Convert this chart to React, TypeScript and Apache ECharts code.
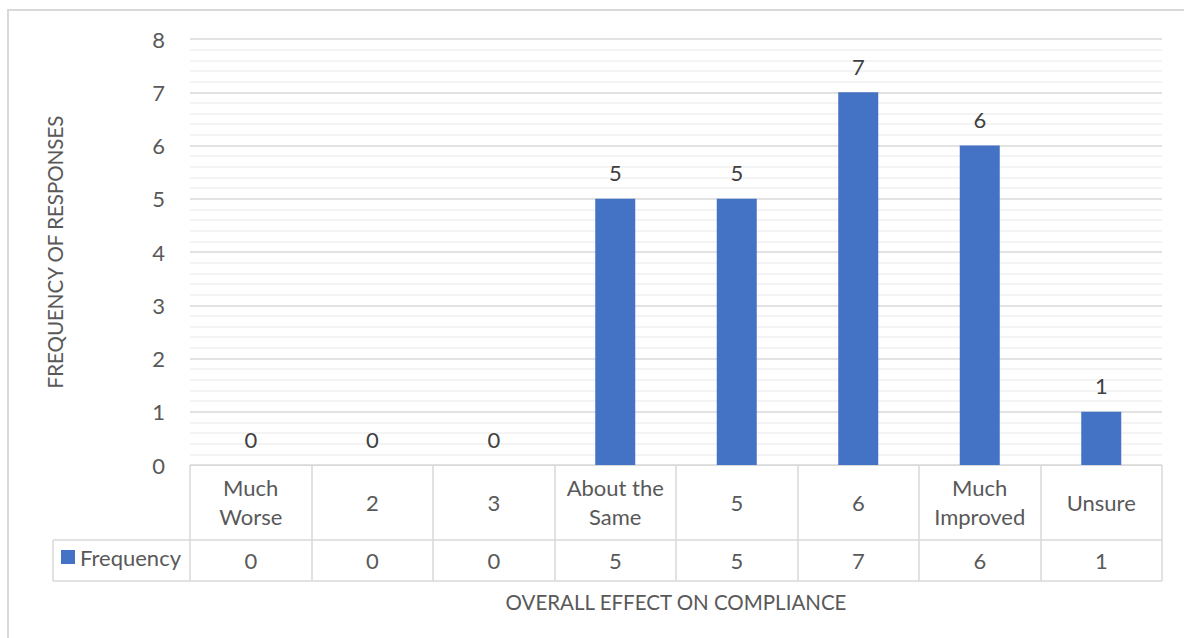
import React, { useEffect, useRef } from "react";
import * as echarts from "echarts";

const categories = ["Much\nWorse", "2", "3", "About the\nSame", "5", "6", "Much\nImproved", "Unsure"];
const frequency = [0, 0, 0, 5, 5, 7, 6, 1];
const seriesName = "Frequency";
const yTitle = "FREQUENCY OF RESPONSES";
const xTitle = "OVERALL EFFECT ON COMPLIANCE";

const FONT = "Lato, 'Open Sans', sans-serif";
const TEXT = "#595959";
const GRID = "#d9d9d9";

export default function App() {
  const ref = useRef<HTMLDivElement>(null);
  useEffect(() => {
    if (!ref.current) return;
    const chart = echarts.init(ref.current, undefined, { renderer: "svg" });
    chart.setOption({
      animation: false,
      textStyle: { fontFamily: FONT },
      grid: { left: 190, right: 22, top: 39, bottom: 173, containLabel: false },
      legend: {
        data: [seriesName],
        left: 61,
        top: 546,
        padding: 0,
        itemWidth: 14,
        itemHeight: 14,
        icon: "rect",
        textStyle: { fontSize: 22, color: TEXT, fontFamily: FONT },
      },
      xAxis: [
        {
          type: "category",
          data: categories,
          position: "bottom",
          axisLine: { show: true, lineStyle: { color: GRID, width: 1 } },
          axisTick: { show: true, alignWithLabel: false, length: 116, lineStyle: { color: GRID, width: 1.5 } },
          axisLabel: {
            fontSize: 22,
            color: TEXT,
            lineHeight: 29,
            margin: 37,
            verticalAlign: "middle",
            interval: 0,
            fontFamily: FONT,
          },
        },
        {
          type: "category",
          data: categories,
          position: "bottom",
          offset: 75,
          axisLine: { show: false },
          axisTick: { show: false },
          axisLabel: {
            fontSize: 22,
            color: TEXT,
            margin: 20,
            verticalAlign: "middle",
            interval: 0,
            fontFamily: FONT,
            formatter: (_v: string, i: number) => String(frequency[i]),
          },
          name: xTitle,
          nameLocation: "middle",
          nameGap: 62,
          nameTextStyle: { fontSize: 20.5, color: TEXT, fontFamily: FONT, verticalAlign: "middle" },
        },
      ],
      yAxis: {
        type: "value",
        min: 0,
        max: 8,
        interval: 1,
        axisLine: { show: false },
        axisTick: { show: false },
        axisLabel: { fontSize: 22, color: TEXT, margin: 25, fontFamily: FONT },
        splitLine: { show: true, lineStyle: { color: GRID, width: 1.5 } },
        minorTick: { show: false, splitNumber: 5 },
        minorSplitLine: { show: true, lineStyle: { color: "#f0f0f0", width: 1.5 } },
        name: yTitle,
        nameLocation: "middle",
        nameGap: 135,
        nameRotate: 90,
        nameTextStyle: { fontSize: 20.5, color: TEXT, fontFamily: FONT, verticalAlign: "middle" },
      },
      series: [
        {
          name: seriesName,
          type: "bar",
          data: frequency,
          barWidth: 40,
          itemStyle: { color: "#4472c4" },
          label: {
            show: true,
            position: "top",
            distance: 15,
            fontSize: 22,
            color: "#404040",
            fontFamily: FONT,
          },
        },
      ],
      graphic: [
        {
          type: "rect",
          shape: { x: 8, y: 10, width: 1300, height: 1000 },
          style: { fill: "none", stroke: GRID, lineWidth: 2 },
          silent: true,
        },
        {
          type: "line",
          shape: { x1: 53, y1: 540, x2: 1162, y2: 540 },
          style: { stroke: GRID, lineWidth: 1.5 },
          silent: true,
        },
        {
          type: "line",
          shape: { x1: 53, y1: 581, x2: 1162, y2: 581 },
          style: { stroke: GRID, lineWidth: 1.5 },
          silent: true,
        },
        {
          type: "line",
          shape: { x1: 53, y1: 540, x2: 53, y2: 581 },
          style: { stroke: GRID, lineWidth: 1.5 },
          silent: true,
        },
      ],
    });
    return () => chart.dispose();
  }, []);
  return (
    <div
      ref={ref}
      style={{ position: "absolute", left: 0, top: 0, width: 1184, height: 638, background: "#fff" }}
    />
  );
}
